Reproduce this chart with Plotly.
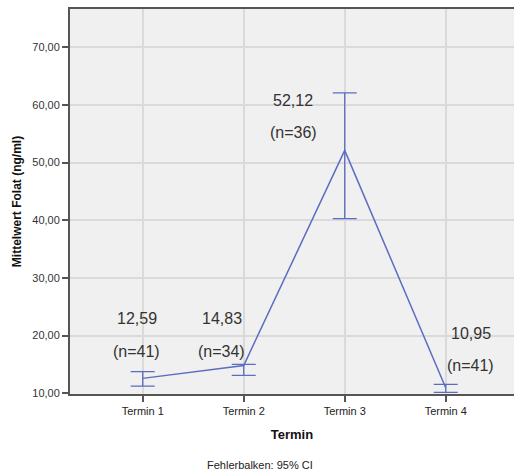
import plotly.graph_objects as go

# Folate means per appointment with 95% confidence intervals
termine = ["Termin 1", "Termin 2", "Termin 3", "Termin 4"]
mittelwert = [12.59, 14.83, 52.12, 10.95]
ci_unten = [11.24, 13.12, 40.3, 10.17]
ci_oben = [13.76, 15.03, 62.1, 11.56]
n_werte = [41, 34, 36, 41]

# label anchor positions (data units) for the value/n annotations
label_x = [0.94, 1.78, 2.49, 4.25]
label_y_wert = [22.9, 22.9, 60.7, 20.3]
label_y_n = [17.2, 17.2, 55.2, 14.8]

x_pos = list(range(1, len(termine) + 1))
blau = "#5A6DC0"
achse = "#555555"
gitter = "#DADADA"
schrift = "Liberation Sans, Arial, sans-serif"

fig = go.Figure()
fig.add_trace(go.Scatter(
    x=x_pos,
    y=mittelwert,
    mode="lines",
    line=dict(color=blau, width=1.5),
    error_y=dict(
        type="data",
        symmetric=False,
        array=[o - m for o, m in zip(ci_oben, mittelwert)],
        arrayminus=[m - u for m, u in zip(mittelwert, ci_unten)],
        color=blau,
        thickness=1.3,
        width=12,
    ),
    showlegend=False,
    hoverinfo="skip",
))

def fmt(v):
    return f"{v:.2f}".replace(".", ",")

for i in range(len(termine)):
    fig.add_annotation(x=label_x[i], y=label_y_wert[i], text=fmt(mittelwert[i]),
                       showarrow=False, font=dict(size=16, color="#333333", family=schrift))
    fig.add_annotation(x=label_x[i], y=label_y_n[i], text=f"(n={n_werte[i]})",
                       showarrow=False, font=dict(size=16, color="#333333", family=schrift))

# footnote below the axis title
fig.add_annotation(x=0.428, xref="paper", y=-0.184, yref="paper", yanchor="middle",
                   text="Fehlerbalken: 95% CI", showarrow=False,
                   font=dict(size=11, color="#222222", family=schrift))

fig.update_layout(
    width=514,
    height=476,
    margin=dict(l=70, r=0, t=9, b=82),
    paper_bgcolor="white",
    plot_bgcolor="#F0F0F0",
    separators=",.",
    font=dict(family=schrift, color="#333333"),
    xaxis=dict(
        range=[0.28, 4.676],
        tickvals=x_pos,
        ticktext=termine,
        tickfont=dict(size=11, color="#222222"),
        showgrid=True,
        gridcolor=gitter,
        gridwidth=1.5,
        showline=True,
        linecolor=achse,
        linewidth=2,
        mirror=True,
        ticks="outside",
        ticklen=6,
        tickcolor=achse,
        tickwidth=1.5,
        zeroline=False,
        title=dict(text="<b>Termin</b>", font=dict(size=13, color="#111111"), standoff=14),
    ),
    yaxis=dict(
        range=[9.88, 76.64],
        tickvals=[10, 20, 30, 40, 50, 60, 70],
        tickformat=".2f",
        tickfont=dict(size=11, color="#333333"),
        showgrid=True,
        gridcolor=gitter,
        gridwidth=1.5,
        showline=True,
        linecolor=achse,
        linewidth=2,
        ticks="outside",
        ticklen=6,
        tickcolor=achse,
        tickwidth=1.5,
        zeroline=False,
        title=dict(text="<b>Mittelwert Folat (ng/ml)</b>", font=dict(size=12, color="#111111"), standoff=8),
    ),
)

fig.write_html("out.html")
